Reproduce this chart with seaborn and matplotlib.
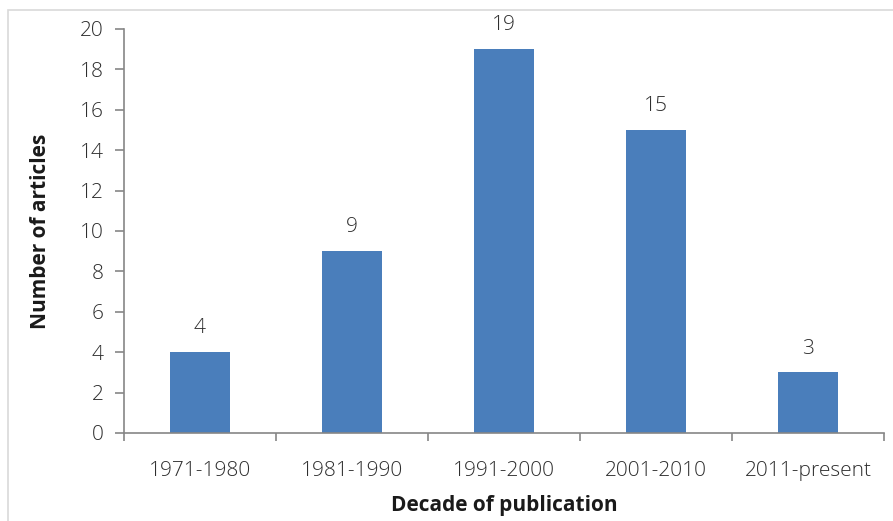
import matplotlib
matplotlib.use("Agg")
import matplotlib.pyplot as plt
from matplotlib.patches import Rectangle
from matplotlib.ticker import FixedLocator
import seaborn as sns
import pandas as pd

decades = ["1971-1980", "1981-1990", "1991-2000", "2001-2010", "2011-present"]
articles = [4, 9, 19, 15, 3]
y_ticks = [0, 2, 4, 6, 8, 10, 12, 14, 16, 18, 20]

sns.set_theme(style="white")
plt.rcParams["font.family"] = ["Open Sans", "DejaVu Sans"]

df = pd.DataFrame({"decade": decades, "articles": articles})

fig = plt.figure(figsize=(8.93, 5.21), dpi=100)
ax = fig.add_axes([124 / 893, 88 / 521, 760 / 893, 404 / 521])

sns.barplot(data=df, x="decade", y="articles", color="#4a7ebb",
            saturation=1, width=0.4, linewidth=0, ax=ax)

axis_grey = "#868686"
text_col = "#2e2e2e"
tick_size = 15

ax.set_xlim(-0.5, len(decades) - 0.5)
ax.set_ylim(0, 20)
ax.set_yticks(y_ticks)
ax.tick_params(axis="y", which="major", left=True, length=6.5, width=1.2,
               color=axis_grey, labelsize=tick_size, labelcolor=text_col, pad=8)
ax.tick_params(axis="x", which="major", bottom=False, labelsize=tick_size,
               labelcolor=text_col, pad=14)
ax.xaxis.set_minor_locator(FixedLocator([i - 0.5 for i in range(len(decades) + 1)]))
ax.tick_params(axis="x", which="minor", bottom=True, length=6, width=1.2,
               color=axis_grey)
for lbl in ax.get_xticklabels() + ax.get_yticklabels():
    lbl.set_fontweight("light")

for side in ["top", "right"]:
    ax.spines[side].set_visible(False)
for side in ["left", "bottom"]:
    ax.spines[side].set_color(axis_grey)
    ax.spines[side].set_linewidth(1.2)

for i, v in enumerate(articles):
    ax.annotate(str(v), xy=(i, v), xytext=(0, 10), textcoords="offset points",
                ha="center", va="bottom", fontsize=tick_size,
                fontweight="light", color=text_col)

ax.set_xlabel("Decade of publication", fontsize=15, fontweight="bold",
              color="#1a1a1a")
ax.set_ylabel("Number of articles", fontsize=15, fontweight="bold",
              color="#1a1a1a")
ax.xaxis.set_label_coords(0.5, (433 - 506) / 404)
ax.xaxis.label.set_va("center")
ax.yaxis.set_label_coords((41 - 124) / 760, 0.5)
ax.yaxis.label.set_va("center")

fig.patches.append(Rectangle((8 / 893, -0.01), 1.0, 1 - 10 / 521 + 0.01,
                             transform=fig.transFigure, fill=False,
                             edgecolor="#d9d9d9", linewidth=1.2))

fig.savefig("out.png", dpi=100)
